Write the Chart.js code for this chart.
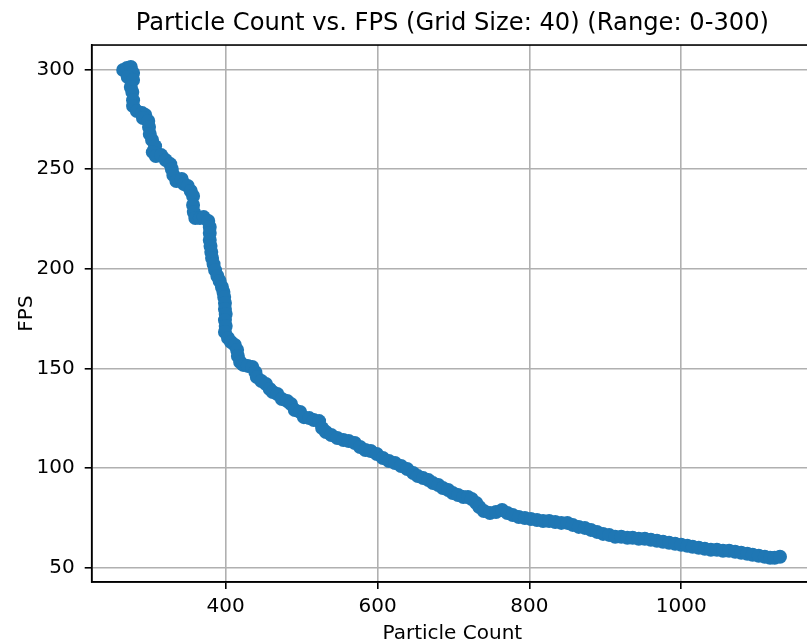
<!DOCTYPE html>
<html>
<head>
<meta charset="utf-8">
<title>Particle Count vs. FPS</title>
<script src="https://cdn.jsdelivr.net/npm/chart.js@4.4.1/dist/chart.umd.min.js"></script>
<style>
  html, body { margin: 0; padding: 0; background: #fff; overflow: hidden; }
  canvas { display: block; }
</style>
</head>
<body>
<canvas id="chart" width="813" height="644"></canvas>
<script>
// Data
const particleCounts = [
  265, 270, 275, 278, 271, 278, 275, 277, 278, 278,
  283, 290, 294, 291, 298, 299, 300, 303, 307, 304,
  308, 315, 321, 327, 329, 331, 335, 342, 345, 350,
  354, 357, 357, 358, 360, 366, 371, 377, 379, 379,
  379, 380, 381, 382, 384, 386, 389, 392, 395, 397,
  398, 399, 399, 400, 399, 400, 399, 403, 407, 412,
  415, 416, 419, 423, 429, 435, 439, 441, 447, 453,
  458, 462, 468, 474, 481, 486, 491, 498, 503, 510,
  516, 523, 527, 532, 539, 547, 555, 562, 570, 577,
  584, 591, 599, 607, 615, 623, 631, 639, 647, 653,
  660, 667, 673, 680, 686, 693, 699, 706, 713, 719,
  724, 730, 734, 740, 748, 756, 764, 771, 778, 786,
  794, 802, 810, 818, 826, 834, 842, 850, 857, 865,
  873, 881, 889, 897, 905, 913, 921, 929, 936, 944,
  952, 960, 968, 976, 984, 992, 1000, 1008, 1015, 1023,
  1031, 1039, 1047, 1055, 1063, 1071, 1079, 1087, 1094, 1102,
  1110, 1117, 1123, 1130,
];
const fpsValues = [
  299.7, 300.7, 301.2, 298.2, 296.2, 294.7, 291.2, 288.7, 284.6, 281.6,
  279.1, 278.1, 277.1, 275.6, 274.1, 271.1, 267.6, 264.6, 261.5, 258.5,
  256.5, 257.0, 254.5, 252.5, 250.0, 247.0, 244.0, 245.0, 242.5, 241.5,
  239.0, 236.5, 232.0, 228.4, 225.4, 225.4, 225.9, 223.9, 220.9, 217.9,
  214.4, 211.4, 208.4, 205.4, 202.3, 199.3, 196.3, 193.8, 190.8, 188.3,
  185.8, 182.8, 179.8, 177.3, 174.2, 171.2, 168.2, 165.2, 163.2, 161.7,
  159.2, 156.2, 153.2, 151.7, 151.2, 150.7, 148.1, 145.6, 143.6, 142.1,
  139.6, 138.1, 137.1, 134.6, 133.6, 132.1, 129.1, 128.1, 125.5, 125.0,
  124.0, 123.5, 120.0, 118.0, 116.5, 115.0, 114.0, 113.5, 112.5, 110.5,
  109.0, 108.5, 107.0, 105.0, 103.5, 102.5, 101.0, 99.5, 97.4, 95.9,
  94.9, 93.9, 92.4, 91.4, 89.9, 88.9, 87.4, 86.4, 85.4, 85.4,
  84.4, 82.4, 80.4, 78.4, 77.4, 77.9, 78.9, 77.4, 76.4, 75.4,
  74.9, 74.4, 73.9, 73.4, 73.4, 72.9, 72.4, 72.4, 71.4, 70.4,
  69.9, 68.9, 67.9, 66.9, 66.4, 65.4, 65.4, 64.9, 64.9, 64.4,
  64.4, 63.9, 63.4, 62.9, 62.4, 61.9, 61.4, 60.9, 60.4, 59.9,
  59.4, 58.9, 58.9, 58.4, 58.4, 57.9, 57.4, 56.9, 56.4, 55.9,
  55.4, 54.9, 54.9, 55.4,
];
const xTicks = [400, 600, 800, 1000];
const yTicks = [50, 100, 150, 200, 250, 300];

const FONT = 'DejaVu Sans';

// matplotlib-style box round the axes (right side ends up off-screen)
const frame = {
  id: 'frame',
  afterDraw(chart) {
    const { ctx, chartArea } = chart;
    ctx.save();
    ctx.strokeStyle = '#000';
    ctx.lineWidth = 1.6;
    ctx.strokeRect(chartArea.left, chartArea.top,
      chartArea.right - chartArea.left, chartArea.bottom - chartArea.top);
    ctx.restore();
  },
};

const tickFont = { family: FONT, size: 20 };

new Chart(document.getElementById('chart'), {
  type: 'scatter',
  data: {
    datasets: [{
      data: particleCounts.map((x, i) => ({ x, y: fpsValues[i] })),
      backgroundColor: '#1f77b4',
      borderWidth: 0,
      pointRadius: 7,
      pointHoverRadius: 7,
    }],
  },
  options: {
    responsive: false,
    animation: false,
    layout: { padding: 0, autoPadding: false },
    plugins: {
      legend: { display: false },
      tooltip: { enabled: false },
      title: {
        display: true,
        text: 'Particle Count vs. FPS (Grid Size: 40) (Range: 0-300)',
        fullSize: false,
        color: '#000',
        font: { family: FONT, size: 24.2, weight: 'normal', lineHeight: 1.2 },
        padding: { top: 9.5, bottom: 6.5 },
      },
    },
    scales: {
      x: {
        type: 'linear',
        min: 223.5,
        max: 1173.5,
        z: 1,
        afterBuildTicks: (scale) => { scale.ticks = xTicks.map((v) => ({ value: v })); },
        afterFit: (scale) => {
          scale.height = 62;
          scale.paddingLeft = 0;
          scale.paddingRight = 0;
        },
        grid: { color: '#b0b0b0', lineWidth: 1.6, tickColor: '#000', tickLength: 7, tickWidth: 1.6 },
        border: { color: '#000', width: 1.6 },
        ticks: { font: tickFont, color: '#000', padding: 5.5, maxRotation: 0, callback: (v) => String(v) },
        title: {
          display: true,
          text: 'Particle Count',
          color: '#000',
          font: { family: FONT, size: 20, lineHeight: 1 },
          padding: { top: 0, bottom: 0 },
        },
      },
      y: {
        type: 'linear',
        min: 42.75,
        max: 312.25,
        z: 1,
        afterBuildTicks: (scale) => { scale.ticks = yTicks.map((v) => ({ value: v })); },
        afterFit: (scale) => {
          scale.width = 91.7;
          scale.paddingTop = 0;
          scale.paddingBottom = 0;
        },
        grid: { color: '#b0b0b0', lineWidth: 1.6, tickColor: '#000', tickLength: 7, tickWidth: 1.6 },
        border: { color: '#000', width: 1.6 },
        ticks: { font: tickFont, color: '#000', padding: 10, callback: (v) => String(v) },
        title: {
          display: true,
          text: 'FPS',
          color: '#000',
          font: { family: FONT, size: 20, lineHeight: 1 },
          padding: { top: 17, bottom: 0 },
        },
      },
    },
  },
  plugins: [frame],
});
</script>
</body>
</html>
